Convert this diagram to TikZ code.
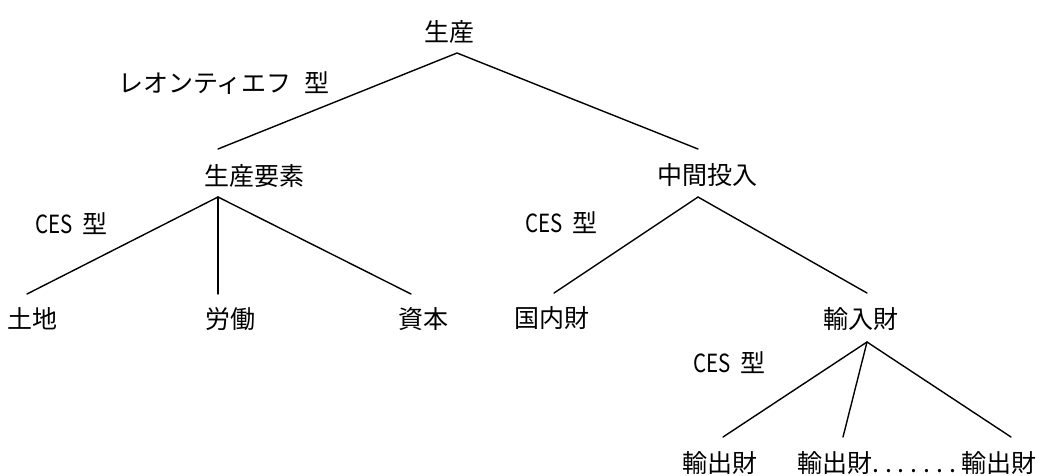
\documentclass[tikz,border=0pt]{standalone}
\usepackage{fontspec}
\setmainfont{Noto Sans CJK JP}
\newcommand\hdot{\makebox[12.8pt][l]{.}}
\newcommand\ces{\scalebox{0.82}[1]{CES}\hspace{10pt}型}
\begin{document}
\begin{tikzpicture}[x=1pt,y=-1pt,
  lbl/.style={inner sep=0pt, font=\fontsize{25}{30}\selectfont},
  edge/.style={line width=1.4pt, line cap=round}]
\useasboundingbox (0,0) rectangle (1043,475);
% labels
\node[lbl, anchor=base] (seisan) at (449,41.5) {生産};
\node[lbl, anchor=base west] (leon) at (118,92.5) {レオンティエフ\hspace{12.5pt}型};
\node[lbl, anchor=base] (yoso) at (254.5,185.5) {生産要素};
\node[lbl, anchor=base] (chukan) at (707,184.5) {中間投入};
\node[lbl, anchor=base west] (ces1) at (35,233) {\ces};
\node[lbl, anchor=base west] (ces2) at (525,232) {\ces};
\node[lbl, anchor=base west] (ces3) at (693,372) {\ces};
\node[lbl, anchor=base] (tochi) at (32.5,328.5) {土地};
\node[lbl, anchor=base] (rodo) at (230.5,328.5) {労働};
\node[lbl, anchor=base] (shihon) at (423,328.5) {資本};
\node[lbl, anchor=base] (kokunai) at (551.5,327.5) {国内財};
\node[lbl, anchor=base] (yunyu) at (860.5,328.5) {輸入財};
\node[lbl, anchor=base] (yushutsuA) at (719.5,472.5) {輸出財};
\node[lbl, anchor=base west] (yushutsuB) at (797,472.5) {輸出財\hdot\hdot\hdot\hdot\hdot\hdot\hdot 輸出財};
% connector end points
\coordinate (p0) at (457,53);
\coordinate (yosoT) at (218,149);
\coordinate (chukanT) at (698,149);
\coordinate (yosoB) at (218,197);
\coordinate (tochiT) at (27,294);
\coordinate (rodoT) at (218,294);
\coordinate (shihonT) at (411,294);
\coordinate (chukanB) at (698,197);
\coordinate (kokunaiT) at (554,293);
\coordinate (yunyuT) at (867,293);
\coordinate (yunyuB) at (867,342);
\coordinate (ex1T) at (723,437);
\coordinate (ex2T) at (843,437);
\coordinate (ex3T) at (1011,437);
% connectors
\draw[edge] (yosoT) -- (p0) -- (chukanT);
\draw[edge] (tochiT) -- (yosoB) -- (shihonT);
\draw[edge] (yosoB) -- (rodoT);
\draw[edge] (kokunaiT) -- (chukanB) -- (yunyuT);
\draw[edge] (ex1T) -- (yunyuB) -- (ex3T);
\draw[edge] (yunyuB) -- (ex2T);
\end{tikzpicture}
\end{document}
